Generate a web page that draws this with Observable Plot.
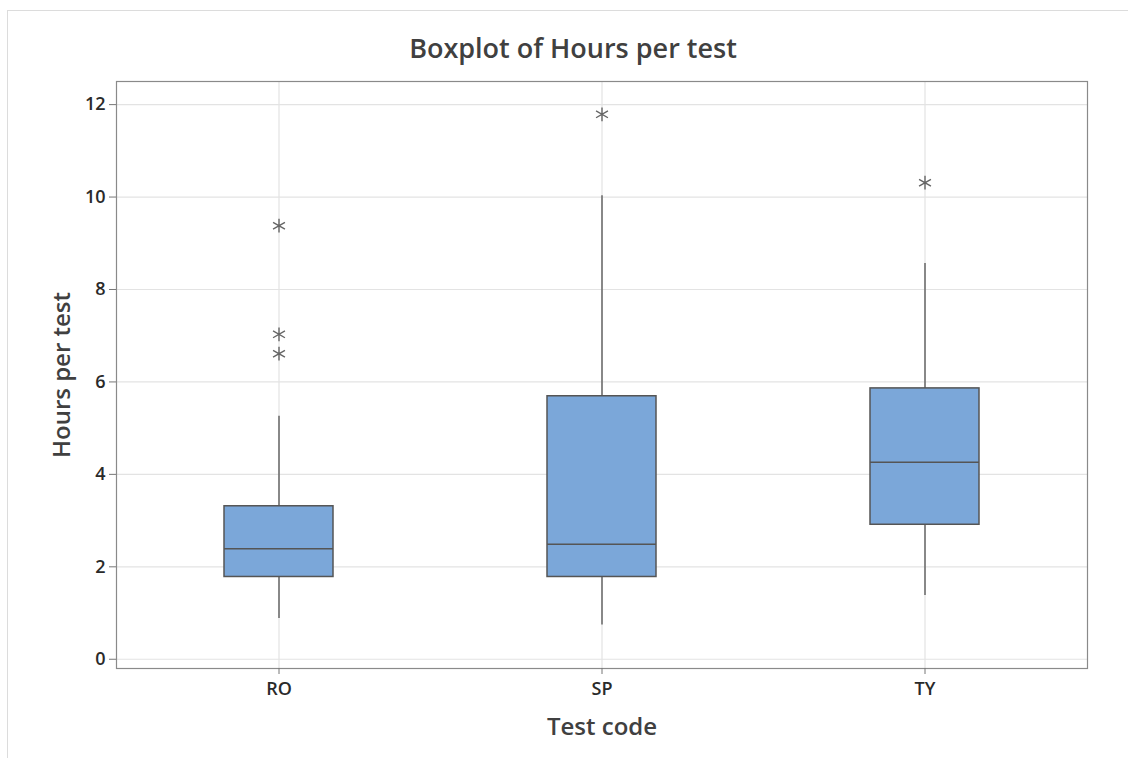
<!DOCTYPE html>
<html><head><meta charset="utf-8">
<script src="https://cdn.jsdelivr.net/npm/d3@7"></script>
<script src="https://cdn.jsdelivr.net/npm/@observablehq/plot@0.6"></script>
<style>
body{margin:0;background:#fff;}
#wrap{position:relative;width:1128px;height:758px;overflow:hidden;background:#fff;}
#border{position:absolute;left:7px;top:10px;right:-2px;bottom:-2px;border-top:1px solid #dcdcdc;border-left:1px solid #dcdcdc;}
#title{position:absolute;left:0;top:30px;width:1146px;text-align:center;font:600 27px "Open Sans",sans-serif;color:#404040;line-height:36px;}
#chart{position:absolute;left:0;top:70px;}
</style></head><body>
<div id="wrap"><div id="border"></div><div id="title">Boxplot of Hours per test</div><div id="chart"></div></div>
<script>
const categories = ["RO", "SP", "TY"];
const q1 = [1.78, 1.78, 2.91];
const median = [2.39, 2.49, 4.26];
const q3 = [3.31, 5.69, 5.86];
const whiskerLow = [0.88, 0.74, 1.38];
const whiskerHigh = [5.26, 10.03, 8.56];
const outlierCategory = ["RO", "RO", "RO", "SP", "TY"];
const outlierValue = [9.38, 7.03, 6.61, 11.79, 10.31];
const yTicks = [0, 2, 4, 6, 8, 10, 12];

const boxes = categories.map((c, i) => ({cat: c, q1: q1[i], median: median[i], q3: q3[i], lo: whiskerLow[i], hi: whiskerHigh[i]}));
const outliers = outlierCategory.map((c, i) => ({cat: c, value: outlierValue[i]}));

const plot = Plot.plot({
  width: 1128, height: 688,
  marginTop: 11, marginBottom: 90, marginLeft: 116, marginRight: 41,
  style: {fontFamily: '"Open Sans", sans-serif', fontSize: "18px", fontWeight: "600", color: "#2a2a2a", background: "transparent", overflow: "visible"},
  x: {type: "band", domain: categories, padding: 0},
  y: {domain: [-0.2, 12.5]},
  marks: [
    Plot.gridY(yTicks, {stroke: "#e3e3e3", strokeOpacity: 1, strokeWidth: 1.2}),
    Plot.gridX(categories, {stroke: "#e3e3e3", strokeOpacity: 1, strokeWidth: 1.2}),
    Plot.ruleX(boxes, {x: "cat", y1: "lo", y2: "q1", stroke: "#666", strokeWidth: 1.5}),
    Plot.ruleX(boxes, {x: "cat", y1: "q3", y2: "hi", stroke: "#666", strokeWidth: 1.5}),
    Plot.barY(boxes, {x: "cat", y1: "q1", y2: "q3", fill: "#7ba7d9", stroke: "#555", strokeWidth: 1.5, insetLeft: 107, insetRight: 107}),
    Plot.tickY(boxes, {x: "cat", y: "median", stroke: "#555", strokeWidth: 1.5, insetLeft: 107, insetRight: 107}),
    Plot.dot(outliers, {x: "cat", y: "value", symbol: "asterisk", r: 6.5, stroke: "#666", strokeWidth: 1.4}),
    Plot.frame({stroke: "#8a8a8a", strokeWidth: 1.2}),
    Plot.axisY(yTicks, {tickSize: 7, tickPadding: 4, stroke: "#777", fontSize: 18, label: null}),
    Plot.axisX({tickSize: 6, tickPadding: 8, stroke: "#777", fontSize: 18, label: null}),
    Plot.text(["Hours per test"], {frameAnchor: "left", rotate: -90, dx: -54, fontSize: 24, textAnchor: "middle", lineAnchor: "middle", fill: "#404040"}),
    Plot.text(["Test code"], {frameAnchor: "bottom", dy: 59, fontSize: 24, textAnchor: "middle", lineAnchor: "middle", fill: "#404040"})
  ]
});
document.getElementById("chart").appendChild(plot);
</script>
</body></html>
